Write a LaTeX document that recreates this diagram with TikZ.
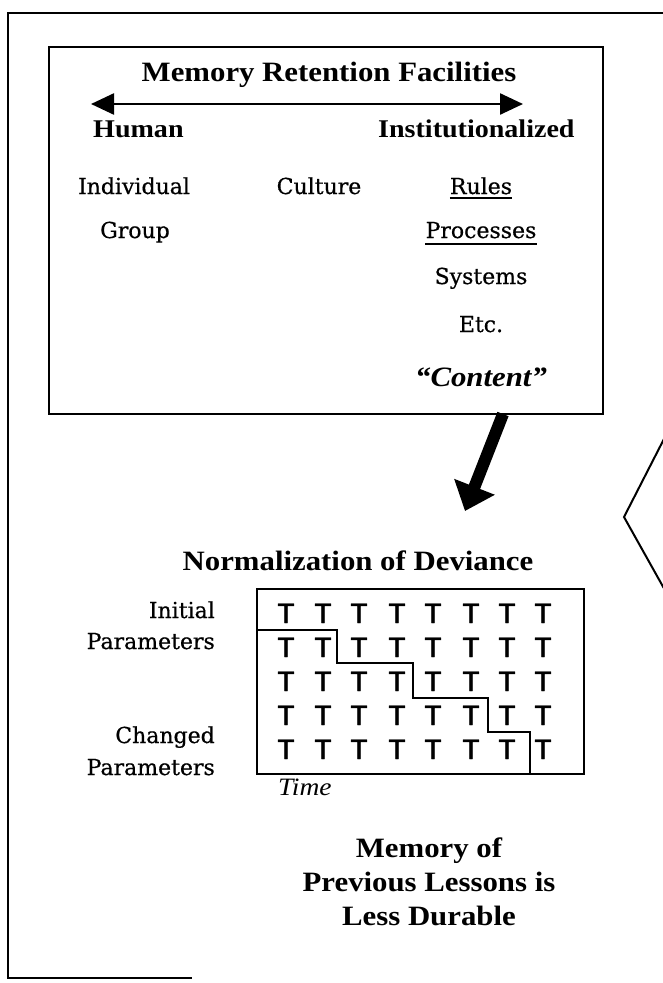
\documentclass[tikz,border=0pt]{standalone}
\usepackage{fontspec}
\setmainfont[FakeBold=0.6]{DejaVu Serif}
\newfontfamily\hdfont[FakeStretch=1.1]{Liberation Serif}
\newfontfamily\tfont[FakeBold=1.5]{Liberation Sans}
\usetikzlibrary{arrows.meta}
\begin{document}
\begin{tikzpicture}[x=1pt,y=-1pt,
  frame/.style={line width=2pt},
  reg/.style={font=\fontsize{22}{26}\selectfont, inner sep=0pt, anchor=base},
  hd/.style={font=\hdfont\bfseries\fontsize{28}{32}\selectfont, inner sep=0pt, anchor=base},
  hdsmall/.style={font=\hdfont\bfseries\fontsize{25.5}{30}\selectfont, inner sep=0pt},
  tt/.style={font=\tfont\fontsize{28}{30}\selectfont, inner sep=0pt, anchor=base},
  ul/.style={line width=1.5pt}]
\useasboundingbox (0,0) rectangle (663,983);

% outer frame (cropped)
\draw[frame] (672,13) -- (8,13) -- (8,978) -- (192,978);

% inner box
\node[draw, frame, minimum width=554pt, minimum height=367pt, anchor=north west, inner sep=0pt] (mrf) at (48,46) {};
\node[hd] (title) at (329,81) {Memory Retention Facilities};
\coordinate (la) at (91,104);
\coordinate (ra) at (523,104);
\draw[line width=2.5pt, {Triangle[length=23pt,width=21pt]}-{Triangle[length=23pt,width=21pt]}] (la) -- (ra);
\node[hdsmall, anchor=base west] (human) at (93,137) {Human};
\node[hdsmall, anchor=base west] (inst) at (378,137) {Institutionalized};

\node[reg] (indiv) at (134,194) {Individual};
\node[reg] (cult) at (319,194) {Culture};
\node[reg] (rules) at (481,194) {Rules};
\draw[ul] ([yshift=-4pt]rules.base west) -- ([yshift=-4pt]rules.base east);
\node[reg] (group) at (135,238) {Group};
\node[reg] (proc) at (481,238) {Processes};
\draw[ul] ([yshift=-6pt]proc.base west) -- ([yshift=-6pt]proc.base east);
\node[reg] (sys) at (481,284) {Systems};
\node[reg] (etc) at (481,332) {Etc.};
\node[hd, font=\hdfont\bfseries\itshape\fontsize{28}{32}\selectfont] (content) at (481,386) {“Content”};

% big arrow
\coordinate (a1) at (503,414);
\coordinate (a2) at (465,511);
\draw[line width=12pt, -{Triangle[length=26pt,width=42pt]}] (a1) -- (a2);

% chevron at right
\draw[frame] (666,435) -- (624,517) -- (666,592);

% normalization of deviance
\node[hd] (norm) at (358,570) {Normalization of Deviance};
\node[draw, frame, minimum width=327pt, minimum height=185pt, anchor=north west, inner sep=0pt] (grid) at (256,588) {};
\foreach \r [count=\i] in {623,657,691,725,759}{
  \foreach \c [count=\j] in {286,323,359,397,433,471,507,543}{
    \node[tt] (t-\i-\j) at (\c,\r) {T};
  }
}
\draw[frame] (256,630) -- (337,630) -- (337,663) -- (413,663) -- (413,698) -- (488,698) -- (488,732) -- (530,732) -- (530,773);

\node[reg, anchor=base east] (ini1) at (215,618) {Initial};
\node[reg, anchor=base east] (ini2) at (215,649) {Parameters};
\node[reg, anchor=base east] (chg1) at (215,743) {Changed};
\node[reg, anchor=base east] (chg2) at (215,775) {Parameters};
\node[font=\hdfont\itshape\fontsize{25}{28}\selectfont, inner sep=0pt, anchor=base west] (time) at (278,795) {Time};

\node[hd] (mem1) at (429,857) {Memory of};
\node[hd] (mem2) at (429,891) {Previous Lessons is};
\node[hd] (mem3) at (429,925) {Less Durable};
\end{tikzpicture}
\end{document}
